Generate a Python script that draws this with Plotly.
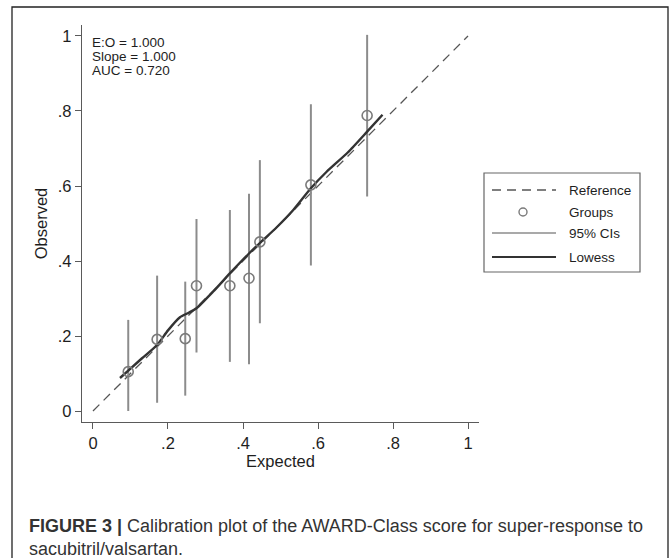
import plotly.graph_objects as go

# ---- data ----
group_expected = [0.094, 0.171, 0.246, 0.276, 0.365, 0.416, 0.445, 0.581, 0.731]
group_observed = [0.105, 0.191, 0.193, 0.334, 0.334, 0.354, 0.451, 0.603, 0.788]
ci_low = [0.0, 0.022, 0.041, 0.156, 0.131, 0.125, 0.234, 0.388, 0.572]
ci_high = [0.243, 0.361, 0.345, 0.512, 0.536, 0.579, 0.669, 0.818, 1.003]
lowess_x = [0.072, 0.10, 0.13, 0.171, 0.20, 0.232, 0.255, 0.276, 0.32, 0.365,
            0.416, 0.445, 0.49, 0.534, 0.581, 0.623, 0.68, 0.731, 0.772]
lowess_y = [0.088, 0.113, 0.14, 0.176, 0.215, 0.25, 0.262, 0.274, 0.318, 0.367,
            0.42, 0.448, 0.49, 0.536, 0.594, 0.638, 0.69, 0.745, 0.79]
ref_x = [0, 1]
ref_y = [0, 1]
tick_vals = [0, 0.2, 0.4, 0.6, 0.8, 1]
tick_text = ["0", ".2", ".4", ".6", ".8", "1"]
stats_lines = ["E:O = 1.000", "Slope = 1.000", "AUC = 0.720"]
legend_labels = ["Reference", "Groups", "95% CIs", "Lowess"]

# ---- layout geometry (pixels) ----
W, H = 670, 558
L, R, T, B = 82, 479, 25, 422
PW, PH = R - L, B - T


def px(x):
    return (x - L) / PW


def py(y):
    return (B - y) / PH


REF_C = "#555555"
GRP_C = "#7a7a7a"
CI_C = "#8c8c8c"
LOW_C = "#333333"
AX_C = "#5a5a5a"
TXT_C = "#1e1e1e"
FONT = "Liberation Sans, Arial, Helvetica, sans-serif"

fig = go.Figure()

# reference diagonal
fig.add_trace(go.Scatter(x=ref_x, y=ref_y, mode="lines",
                         line=dict(color=REF_C, width=1.3, dash="9px,6px"),
                         showlegend=False, hoverinfo="skip"))

# CI vertical lines
ci_x, ci_y = [], []
for xe, lo, hi in zip(group_expected, ci_low, ci_high):
    ci_x += [xe, xe, None]
    ci_y += [lo, hi, None]
fig.add_trace(go.Scatter(x=ci_x, y=ci_y, mode="lines",
                         line=dict(color=CI_C, width=2),
                         showlegend=False, hoverinfo="skip"))

# lowess
fig.add_trace(go.Scatter(x=lowess_x, y=lowess_y, mode="lines",
                         line=dict(color=LOW_C, width=2.4, shape="spline", smoothing=0.6),
                         showlegend=False))

# groups
fig.add_trace(go.Scatter(x=group_expected, y=group_observed, mode="markers",
                         marker=dict(symbol="circle-open", size=10, color=GRP_C,
                                     line=dict(width=1.6, color=GRP_C)),
                         showlegend=False))

shapes = []
annotations = []

# outer frame
shapes.append(dict(type="rect", xref="paper", yref="paper",
                   x0=px(12), x1=px(668), y0=py(575), y1=py(7),
                   line=dict(color="#222222", width=1.3)))

# manual legend
shapes.append(dict(type="rect", xref="paper", yref="paper",
                   x0=px(484), x1=px(640), y0=py(272), y1=py(173),
                   line=dict(color="#666666", width=1.2)))
leg_y = [190, 212, 233, 257]
shapes.append(dict(type="line", xref="paper", yref="paper",
                   x0=px(492), x1=px(556), y0=py(leg_y[0]), y1=py(leg_y[0]),
                   line=dict(color=REF_C, width=1.3, dash="9px,6px")))
shapes.append(dict(type="circle", xref="paper", yref="paper",
                   x0=px(519), x1=px(527), y0=py(leg_y[1] + 4), y1=py(leg_y[1] - 4),
                   line=dict(color=GRP_C, width=1.4)))
shapes.append(dict(type="line", xref="paper", yref="paper",
                   x0=px(492), x1=px(556), y0=py(leg_y[2]), y1=py(leg_y[2]),
                   line=dict(color=CI_C, width=1.6)))
shapes.append(dict(type="line", xref="paper", yref="paper",
                   x0=px(492), x1=px(556), y0=py(leg_y[3]), y1=py(leg_y[3]),
                   line=dict(color=LOW_C, width=2.2)))
for lab, yy in zip(legend_labels, leg_y):
    annotations.append(dict(xref="paper", yref="paper", x=px(567), y=py(yy),
                            text=lab, showarrow=False, xanchor="left", yanchor="middle",
                            font=dict(family=FONT, size=13.5, color=TXT_C)))

# stats text (one annotation per line for tight spacing)
for i, line in enumerate(stats_lines):
    annotations.append(dict(xref="paper", yref="paper", x=px(90), y=py(43 + 13.5 * i),
                            text=line, showarrow=False, xanchor="left", yanchor="middle",
                            font=dict(family=FONT, size=13.5, color=TXT_C)))

# caption
annotations.append(dict(xref="paper", yref="paper", x=px(27), y=py(526),
                        text="<b>FIGURE 3 |</b> Calibration plot of the AWARD-Class score for super-response to",
                        showarrow=False, xanchor="left", yanchor="middle",
                        font=dict(family=FONT, size=18, color="#333333")))
annotations.append(dict(xref="paper", yref="paper", x=px(27), y=py(549),
                        text="sacubitril/valsartan.",
                        showarrow=False, xanchor="left", yanchor="middle",
                        font=dict(family=FONT, size=18, color="#333333")))

rng = [-0.0293, 1.0293]
axis_common = dict(range=rng, tickvals=tick_vals, ticktext=tick_text,
                   showgrid=False, zeroline=False, showline=True,
                   linecolor=AX_C, linewidth=1.3, ticks="outside", ticklen=6,
                   tickwidth=1.2, tickcolor=AX_C,
                   tickfont=dict(family=FONT, size=16.5, color=TXT_C))

fig.update_layout(
    width=W, height=H,
    margin=dict(l=L, r=W - R, t=T, b=H - B),
    paper_bgcolor="white", plot_bgcolor="white",
    xaxis=dict(**axis_common,
               title=dict(text="Expected", standoff=2,
                          font=dict(family=FONT, size=16.5, color=TXT_C))),
    yaxis=dict(**axis_common,
               title=dict(text="Observed", standoff=6,
                          font=dict(family=FONT, size=16.5, color=TXT_C))),
    shapes=shapes, annotations=annotations,
    showlegend=False,
)

fig.write_html("out.html")
